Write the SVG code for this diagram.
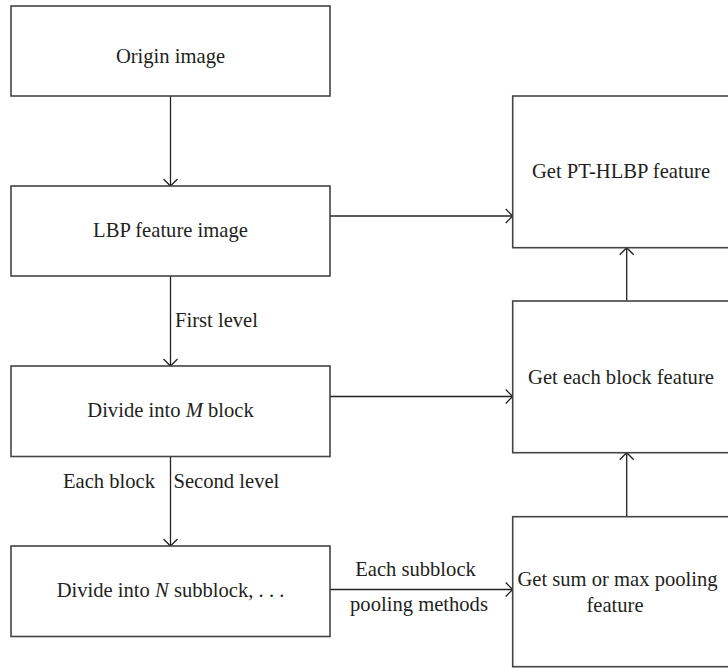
<svg xmlns="http://www.w3.org/2000/svg" width="728" height="669" viewBox="0 0 728 669" font-family="'Liberation Serif', 'Times New Roman', 'DejaVu Serif', serif">
<style>
.box{fill:#fff;stroke:#444;stroke-width:1.6}
.t{font-family:'Liberation Serif','Times New Roman','DejaVu Serif',serif;font-size:20.6px;fill:#231f20}
.c{text-anchor:middle}
.e{text-anchor:end}
.con{fill:none;stroke:#222;stroke-width:1.3}
</style>
<defs>
<marker id="ah" markerUnits="userSpaceOnUse" markerWidth="16" markerHeight="16" viewBox="-9 -8 10 16" refX="0" refY="0" orient="auto">
<path d="M-7,-7 L0,0 L-7,7" fill="none" stroke="#222" stroke-width="1.3"/>
</marker>
</defs>
<rect width="728" height="669" fill="#fff"/>
<g id="connectors">
<line class="con" x1="170.5" y1="96" x2="170.5" y2="186" marker-end="url(#ah)"/>
<line class="con" x1="170.5" y1="276" x2="170.5" y2="366" marker-end="url(#ah)"/>
<line class="con" x1="170.5" y1="456" x2="170.5" y2="546" marker-end="url(#ah)"/>
<line class="con" x1="330" y1="216" x2="512.7" y2="216" marker-end="url(#ah)"/>
<line class="con" x1="330" y1="396.5" x2="512.7" y2="396.5" marker-end="url(#ah)"/>
<line class="con" x1="330" y1="589.5" x2="512.7" y2="589.5" marker-end="url(#ah)"/>
<line class="con" x1="626.7" y1="516.7" x2="626.7" y2="452.7" marker-end="url(#ah)"/>
<line class="con" x1="626.7" y1="301" x2="626.7" y2="247.7" marker-end="url(#ah)"/>
<text class="t" x="175" y="326.5">First level</text>
<text class="t e" x="155" y="488.3">Each block</text>
<text class="t" x="173.5" y="488.3">Second level</text>
<text class="t c" x="415.5" y="576">Each subblock</text>
<text class="t c" x="419" y="610.5">pooling methods</text>
</g>
<g id="origin">
<rect class="box" x="11" y="6" width="319" height="90"/>
<text class="t c" x="170.5" y="63">Origin image</text>
</g>
<g id="lbp">
<rect class="box" x="11" y="186" width="319" height="90"/>
<text class="t c" x="170.5" y="237">LBP feature image</text>
</g>
<g id="divideM">
<rect class="box" x="11" y="366" width="319" height="90.5"/>
<text class="t c" x="170.5" y="416.5">Divide into <tspan font-style="italic">M</tspan> block</text>
</g>
<g id="divideN">
<rect class="box" x="11" y="546" width="319" height="90.5"/>
<text class="t c" x="170.5" y="597.3">Divide into <tspan font-style="italic">N</tspan> subblock, . . .</text>
</g>
<g id="pthlbp">
<rect class="box" x="512.7" y="96" width="217" height="151.7"/>
<text class="t c" x="621" y="177.8">Get PT-HLBP feature</text>
</g>
<g id="eachblock">
<rect class="box" x="512.7" y="301" width="217" height="151.7"/>
<text class="t c" x="621" y="383.5">Get each block feature</text>
</g>
<g id="sumpool">
<rect class="box" x="512.7" y="516.7" width="217" height="150"/>
<text class="t c" x="617.5" y="586">Get sum or max pooling</text>
<text class="t c" x="615" y="611.7">feature</text>
</g>
</svg>
